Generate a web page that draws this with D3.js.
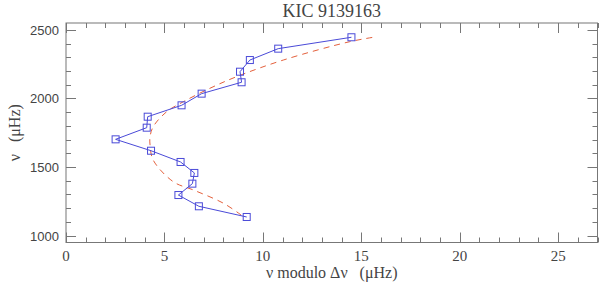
<!DOCTYPE html>
<html><head><meta charset="utf-8">
<script src="https://cdn.jsdelivr.net/npm/d3@7"></script>
<style>body{margin:0;background:#fff}svg{display:block}</style>
</head><body>
<svg id="c" width="600" height="286"></svg>
<script>
const title = "KIC 9139163";
const xLabel = "ν modulo Δν\u00a0\u00a0\u00a0(μHz)";
const yLabel = "ν\u00a0\u00a0\u00a0(μHz)";
const xTicks = [0, 5, 10, 15, 20, 25];
const yTicks = [1000, 1500, 2000, 2500];
// observed modes: nu mod dnu (uHz), nu (uHz)
const obsX = [9.18, 6.75, 5.71, 6.42, 6.52, 5.82, 4.32, 2.52, 4.10, 4.15, 5.87, 6.89, 8.92, 8.84, 9.34, 10.78, 14.5];
const obsY = [1136, 1214, 1296, 1379, 1457, 1537, 1619, 1702, 1787, 1867, 1950, 2035, 2118, 2195, 2280, 2363, 2446];
// fitted curve (dashed)
const fitX = [8.9, 8.0, 6.47, 5.45, 4.43, 4.27, 4.27, 4.43, 5.11, 5.96, 7.31, 8.67, 11.04, 14.42, 15.7];
const fitY = [1150, 1236, 1333, 1393, 1551, 1661, 1721, 1794, 1903, 1976, 2074, 2159, 2280, 2414, 2448];

const L = 66, R = 597.5, T = 23, B = 242.5;
const x = d3.scaleLinear().domain([0, 27]).range([L, R]);
const y = d3.scaleLinear().domain([950, 2550]).range([B, T]);
const svg = d3.select("#c");
const axCol = "#777", txtCol = "#444";

// frame
svg.append("rect").attr("x", L).attr("y", T).attr("width", R - L).attr("height", B - T)
  .attr("fill", "none").attr("stroke", axCol).attr("stroke-width", 1);

const xMinor = d3.range(0, 28, 1);
const yMinor = d3.range(1000, 2551, 100);
function tk(g, arr, isX, major) {
  const len = major ? 10 : 5;
  arr.forEach(v => {
    if (isX) {
      const px = Math.round(x(v)) + 0.5;
      g.append("line").attr("x1", px).attr("x2", px).attr("y1", B).attr("y2", B - len);
      g.append("line").attr("x1", px).attr("x2", px).attr("y1", T).attr("y2", T + len);
    } else {
      const py = Math.round(y(v)) + 0.5;
      g.append("line").attr("y1", py).attr("y2", py).attr("x1", L).attr("x2", L + len);
      g.append("line").attr("y1", py).attr("y2", py).attr("x1", R).attr("x2", R - len);
    }
  });
}
const tg = svg.append("g").attr("stroke", axCol).attr("stroke-width", 1);
tk(tg, xMinor.filter(v => v % 5 !== 0), true, false);
tk(tg, xTicks, true, true);
tk(tg, yMinor.filter(v => v % 500 !== 0), false, false);
tk(tg, yTicks, false, true);

// tick labels
svg.append("g").selectAll("text").data(xTicks).join("text")
  .attr("x", d => x(d)).attr("y", 261).attr("text-anchor", "middle")
  .attr("font-family", "Liberation Serif, serif").attr("font-size", 15).attr("fill", txtCol)
  .text(d => d);
svg.append("g").selectAll("text").data(yTicks).join("text")
  .attr("x", 59).attr("y", d => y(d) + 5).attr("text-anchor", "end")
  .attr("font-family", "Liberation Sans, sans-serif").attr("font-size", 13).attr("fill", txtCol)
  .text(d => d);

// title & labels
svg.append("text").attr("x", (L + R) / 2).attr("y", 17).attr("text-anchor", "middle")
  .attr("font-family", "Liberation Serif, serif").attr("font-size", 18).attr("fill", txtCol).text(title);
svg.append("text").attr("x", (L + R) / 2).attr("y", 278).attr("text-anchor", "middle")
  .attr("font-family", "Liberation Serif, serif").attr("font-size", 16).attr("fill", txtCol)
  .text(xLabel);
svg.append("text").attr("transform", `translate(20,${(T + B) / 2}) rotate(-90)`).attr("text-anchor", "middle")
  .attr("font-family", "Liberation Serif, serif").attr("font-size", 16).attr("fill", txtCol)
  .text(yLabel);

// fitted dashed curve
const fit = fitX.map((v, i) => [v, fitY[i]]);
svg.append("path").datum(fit)
  .attr("d", d3.line().x(d => x(d[0])).y(d => y(d[1])).curve(d3.curveCatmullRom))
  .attr("fill", "none").attr("stroke", "#e4603c").attr("stroke-width", 1).attr("stroke-dasharray", "6,5");

// observed
const obs = obsX.map((v, i) => [v, obsY[i]]);
svg.append("path").datum(obs)
  .attr("d", d3.line().x(d => x(d[0])).y(d => y(d[1])))
  .attr("fill", "none").attr("stroke", "#4a4ad8").attr("stroke-width", 1);
svg.append("g").selectAll("rect").data(obs).join("rect")
  .attr("x", d => x(d[0]) - 3.5).attr("y", d => y(d[1]) - 3.5).attr("width", 7).attr("height", 7)
  .attr("fill", "none").attr("stroke", "#4a4ad8").attr("stroke-width", 1);
</script>
</body></html>
